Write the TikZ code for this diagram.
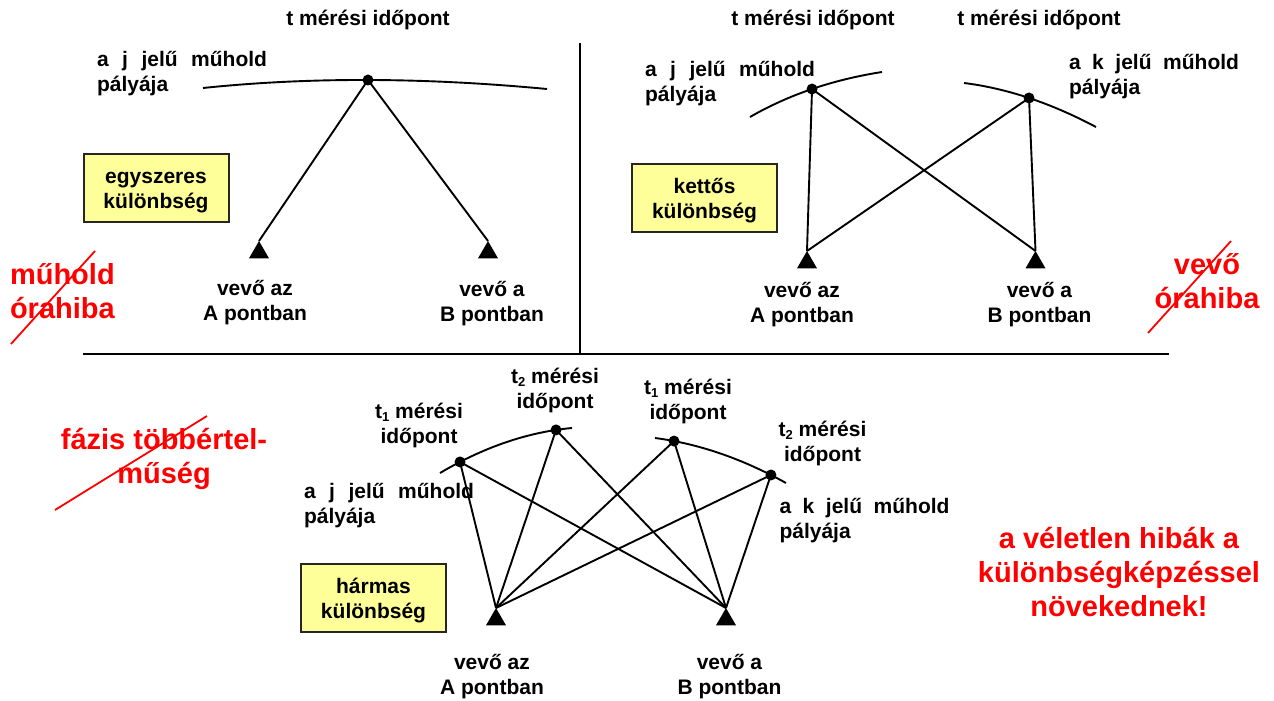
\documentclass[tikz,border=0pt]{standalone}
\usepackage{fontspec}
\setmainfont{Liberation Sans}
\usetikzlibrary{shapes.geometric}
\definecolor{boxyellow}{HTML}{FFFF99}
\definecolor{alertred}{HTML}{FF0000}
% subscript index for measurement epochs
\newcommand\lowidx[1]{\raisebox{-3pt}{\fontsize{13}{13}\selectfont #1}}
% struts that keep text blocks optically centred
\newcommand\blkTop{\rule{0pt}{18pt}}
\newcommand\blkBot{\rule[-6pt]{0pt}{6pt}}
\newcommand\boxTop{\rule{0pt}{22pt}}
\newcommand\redTop{\rule{0pt}{25pt}}
\newcommand\redBot{\rule[-8pt]{0pt}{8pt}}
% two-line label bodies
\newcommand\pair[2]{\blkTop#1\\#2\blkBot}
\newcommand\boxpair[2]{\boxTop#1\\#2\blkBot}
\newcommand\single[1]{\blkTop#1\blkBot}
% orbit label with justified first line
\newcommand\orbitname[1]{\blkTop\makebox[170pt][s]{a #1 jelű műhold}\\pályája\blkBot}
\begin{document}
\begin{tikzpicture}[x=1pt,y=-1pt,
  every node/.style={font=\bfseries\fontsize{21}{25}\selectfont, inner sep=0pt, outer sep=0pt},
  lbl/.style={align=center},
  orbitlbl/.style={align=left, anchor=west},
  diffbox/.style={draw=black!85, line width=2pt, fill=boxyellow,
    minimum width=145pt, minimum height=68pt, align=center},
  sat/.style={circle, fill=black, minimum size=11pt},
  rcv/.style={regular polygon, regular polygon sides=3, fill=black, minimum size=23pt},
  link/.style={line width=1.9pt},
  orbit/.style={line width=1.9pt},
  divider/.style={line width=2pt},
  alert/.style={text=alertred, font=\bfseries\fontsize{29}{34}\selectfont, align=center},
  strike/.style={draw=alertred, line width=1.8pt}]
\useasboundingbox (0,0) rectangle (1274,701);

% ---------- panel dividers ----------
\draw[divider] (580,43) -- (580,353);
\draw[divider] (83,354) -- (1169,354);

% ---------- single difference ----------
\draw[orbit] (203,88) .. controls (308.3,77) and (423,77.3) .. (547,89) coordinate[pos=0.5] (tlD);
\node[sat] (tlS) at (tlD) {};
\node[rcv] (tlA) at (259,252.5) {};
\node[rcv] (tlB) at (488,252.5) {};
\draw[link] (tlS.center) -- (tlA.corner 1);
\draw[link] (tlS.center) -- (tlB.corner 1);
\node[lbl] (tlT) at (368,20) {\single{t mérési időpont}};
\node[orbitlbl] (tlO) at (97,73) {\orbitname{j}};
\node[diffbox] (tlBox) at (156,188) {\boxpair{egyszeres}{különbség}};
\node[lbl] (tlAl) at (255,302) {\pair{vevő az}{A pontban}};
\node[lbl] (tlBl) at (492,303) {\pair{vevő a}{B pontban}};
\node[alert, align=left, anchor=west] (tlErr) at (10,293) {\redTop műhold\\órahiba\redBot};
\draw[strike] (11,344) -- (95,251);

% ---------- double difference ----------
\draw[orbit] (750,117) .. controls (788.7,94.7) and (832.7,79.7) .. (882,72) coordinate[pos=0.5] (trjD);
\draw[orbit] (964,83) .. controls (1006.7,88.3) and (1050.7,103) .. (1096,127) coordinate[pos=0.5] (trkD);
\node[sat] (trJ) at (trjD) {};
\node[sat] (trK) at (trkD) {};
\node[rcv] (trA) at (807,262.5) {};
\node[rcv] (trB) at (1035.5,262.5) {};
\draw[link] (trJ.center) -- (trA.corner 1);
\draw[link] (trJ.center) -- (trB.corner 1);
\draw[link] (trK.center) -- (trA.corner 1);
\draw[link] (trK.center) -- (trB.corner 1);
\node[lbl] (trT1) at (813,20) {\single{t mérési időpont}};
\node[lbl] (trT2) at (1039,20) {\single{t mérési időpont}};
\node[orbitlbl] (trOj) at (645,83) {\orbitname{j}};
\node[orbitlbl] (trOk) at (1069,76) {\orbitname{k}};
\node[diffbox] (trBox) at (704.5,198) {\boxpair{kettős}{különbség}};
\node[lbl] (trAl) at (802,303.5) {\pair{vevő az}{A pontban}};
\node[lbl] (trBl) at (1039.5,303.5) {\pair{vevő a}{B pontban}};
\node[alert] (trErr) at (1207,282.5) {\redTop vevő\\órahiba\redBot};
\draw[strike] (1148,333) -- (1231,241);

% ---------- triple difference ----------
\draw[orbit] (440,473) .. controls (484,447) and (528,432) .. (572,428)
  coordinate[pos=0.1515] (bj1) coordinate[pos=0.879] (bj2);
\draw[orbit] (655,438) .. controls (698.7,443.7) and (742.3,458.7) .. (786,483)
  coordinate[pos=0.145] (bk1) coordinate[pos=0.885] (bk2);
\node[sat] (bJ1) at (bj1) {};
\node[sat] (bJ2) at (bj2) {};
\node[sat] (bK1) at (bk1) {};
\node[sat] (bK2) at (bk2) {};
\node[rcv] (bA) at (496,619.5) {};
\node[rcv] (bB) at (726,619.5) {};
\foreach \s in {bJ1,bJ2,bK1,bK2}{
  \draw[link] (\s.center) -- (bA.corner 1);
  \draw[link] (\s.center) -- (bB.corner 1);
}
\node[lbl] (bTj1) at (419,425) {\pair{t\lowidx{1} mérési}{időpont}};
\node[lbl] (bTj2) at (555,390) {\pair{t\lowidx{2} mérési}{időpont}};
\node[lbl] (bTk1) at (688,401) {\pair{t\lowidx{1} mérési}{időpont}};
\node[lbl] (bTk2) at (822.5,442.5) {\pair{t\lowidx{2} mérési}{időpont}};
\node[orbitlbl] (bOj) at (304,504.5) {\orbitname{j}};
\node[orbitlbl] (bOk) at (779.5,519.5) {\orbitname{k}};
\node[diffbox] (bBox) at (373.5,598) {\boxpair{hármas}{különbség}};
\node[lbl] (bAl) at (492,675.5) {\pair{vevő az}{A pontban}};
\node[lbl] (bBl) at (729.5,675.5) {\pair{vevő a}{B pontban}};
\node[alert] (bErr) at (164,457.5) {\redTop fázis többértel-\\műség\redBot};
\draw[strike] (55,510) -- (207,416);
\node[alert] (bNote) at (1119,574) {\redTop a véletlen hibák a\\különbségképzéssel\\növekednek!\redBot};
\end{tikzpicture}
\end{document}
